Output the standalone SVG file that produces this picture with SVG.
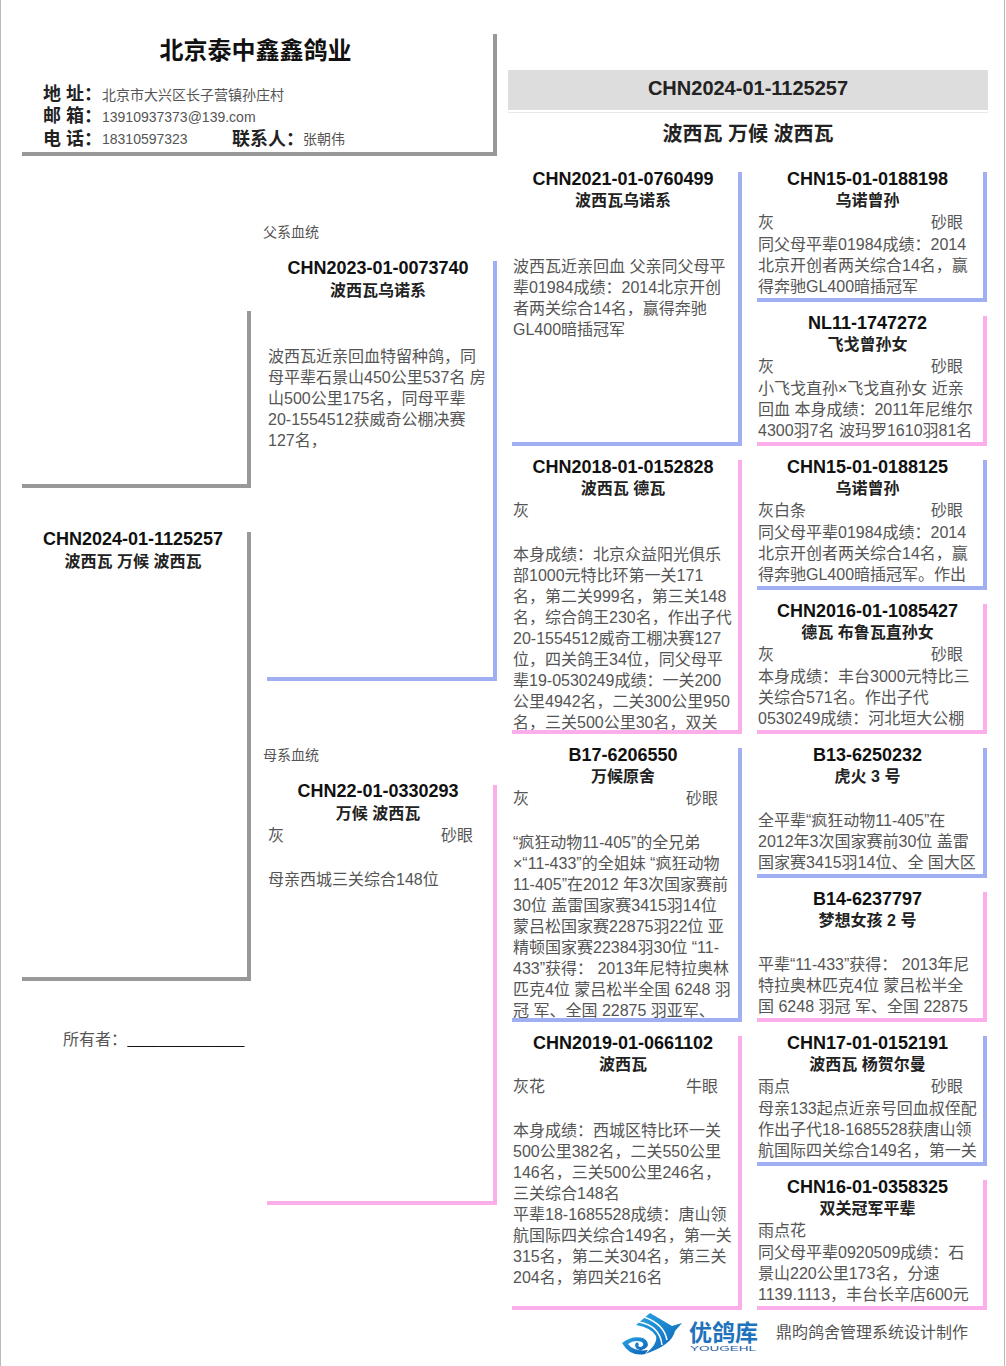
<svg xmlns="http://www.w3.org/2000/svg" width="1006" height="1366" viewBox="0 0 1006 1366">
<style>
text{font-family:"Liberation Sans","Noto Sans CJK SC",sans-serif;fill:#555}
.t{font-size:18px;font-weight:700;text-anchor:middle;fill:#111}
.n{font-size:16px;font-weight:700;text-anchor:middle;fill:#222}
.b{font-size:16px}
.s{font-size:14px}
.h{font-size:18px;font-weight:700;fill:#222}
.k{fill:none;stroke-width:4;stroke-miterlimit:10}
.gr{stroke:#999}.bl{stroke:#a0aff2}.pk{stroke:#fbaeea}
</style>
<defs>
<clipPath id="c2"><rect x="505" y="460" width="232" height="270"/></clipPath>
<clipPath id="c3"><rect x="505" y="748" width="232" height="270"/></clipPath>
<linearGradient id="lg" x1="0" y1="0" x2="1" y2="1"><stop offset="0" stop-color="#2aa7e6"/><stop offset="1" stop-color="#0b5fb4"/></linearGradient>
</defs>
<rect width="1006" height="1366" fill="#fff"/>
<rect x="0" y="0" width="1" height="1366" fill="#bbb"/>
<rect x="1004" y="0" width="1" height="1366" fill="#bbb"/>

<g id="breeder">
<path class="k gr" d="M22 154H495V34"/>
<text x="255.500" y="59" text-anchor="middle" style="font-size:24px;font-weight:700;fill:#111">北京泰中鑫鑫鸽业</text>
<text class="h" x="43" y="100">地 址：</text><text class="s" x="102" y="100">北京市大兴区长子营镇孙庄村</text>
<text class="h" x="43" y="122">邮 箱：</text><text class="s" x="102" y="122">13910937373@139.com</text>
<text class="h" x="43" y="145">电 话：</text><text class="s" x="102" y="144">18310597323</text>
<text class="h" x="232" y="145">联系人：</text><text class="s" x="303" y="144">张朝伟</text>
</g>

<g id="subject-header">
<rect x="508" y="70" width="480" height="40" fill="#ddd"/>
<rect x="508" y="112" width="480" height="1" fill="#e8e8e8"/>
<text x="748" y="95" text-anchor="middle" style="font-size:20px;font-weight:700;fill:#222">CHN2024-01-1125257</text>
<text x="748" y="141" text-anchor="middle" style="font-size:20px;font-weight:700;fill:#222">波西瓦 万候 波西瓦</text>
</g>

<g id="subject">
<path class="k gr" d="M22 486H249V311"/>
<path class="k gr" d="M22 979H249V532"/>
<text class="t" x="133" y="545">CHN2024-01-1125257</text>
<text class="n" x="133" y="567">波西瓦 万候 波西瓦</text>
<text class="b" x="63" y="1045">所有者：</text>
<text class="s" x="127.500" y="1044" style="fill:#111">_______________</text>
</g>

<g id="sire">
<text class="s" x="263" y="237">父系血统</text>
<path class="k bl" d="M267 679H495V261"/>
<text class="t" x="378" y="274">CHN2023-01-0073740</text>
<text class="n" x="378" y="296">波西瓦乌诺系</text>
<text class="b" x="268" y="362">波西瓦近亲回血特留种鸽，同</text>
<text class="b" x="268" y="383">母平辈石景山450公里537名 房</text>
<text class="b" x="268" y="404">山500公里175名，同母平辈</text>
<text class="b" x="268" y="425">20-1554512获威奇公棚决赛</text>
<text class="b" x="268" y="446">127名，</text>
</g>

<g id="dam">
<text class="s" x="263" y="760">母系血统</text>
<path class="k pk" d="M267 1203H495V785"/>
<text class="t" x="378" y="797">CHN22-01-0330293</text>
<text class="n" x="378" y="819">万候 波西瓦</text>
<text class="b" x="268" y="841">灰</text><text class="b" x="441" y="841">砂眼</text>
<text class="b" x="268" y="885">母亲西城三关综合148位</text>
</g>

<g id="ss">
<path class="k bl" d="M512 444H740V172"/>
<text class="t" x="623" y="185">CHN2021-01-0760499</text>
<text class="n" x="623" y="206">波西瓦乌诺系</text>
<text class="b" x="513" y="272">波西瓦近亲回血 父亲同父母平</text>
<text class="b" x="513" y="293">辈01984成绩：2014北京开创</text>
<text class="b" x="513" y="314">者两关综合14名，赢得奔驰</text>
<text class="b" x="513" y="335">GL400暗插冠军</text>
</g>

<g id="sd">
<path class="k pk" d="M512 732H740V460"/>
<text class="t" x="623" y="473">CHN2018-01-0152828</text>
<text class="n" x="623" y="494">波西瓦 德瓦</text>
<text class="b" x="513" y="516">灰</text>
<g clip-path="url(#c2)">
<text class="b" x="513" y="560">本身成绩：北京众益阳光俱乐</text>
<text class="b" x="513" y="581">部1000元特比环第一关171</text>
<text class="b" x="513" y="602">名，第二关999名，第三关148</text>
<text class="b" x="513" y="623">名，综合鸽王230名，作出子代</text>
<text class="b" x="513" y="644">20-1554512威奇工棚决赛127</text>
<text class="b" x="513" y="665">位，四关鸽王34位，同父母平</text>
<text class="b" x="513" y="686">辈19-0530249成绩：一关200</text>
<text class="b" x="513" y="707">公里4942名，二关300公里950</text>
<text class="b" x="513" y="728">名，三关500公里30名，双关</text>
</g>
</g>

<g id="ds">
<path class="k bl" d="M512 1020H740V748"/>
<text class="t" x="623" y="761">B17-6206550</text>
<text class="n" x="623" y="782">万候原舍</text>
<text class="b" x="513" y="804">灰</text><text class="b" x="686" y="804">砂眼</text>
<g clip-path="url(#c3)">
<text class="b" x="513" y="848">“疯狂动物11-405”的全兄弟</text>
<text class="b" x="513" y="869">×“11-433”的全姐妹 “疯狂动物</text>
<text class="b" x="513" y="890">11-405”在2012 年3次国家赛前</text>
<text class="b" x="513" y="911">30位 盖雷国家赛3415羽14位</text>
<text class="b" x="513" y="932">蒙吕松国家赛22875羽22位 亚</text>
<text class="b" x="513" y="953">精顿国家赛22384羽30位 “11-</text>
<text class="b" x="513" y="974">433”获得： 2013年尼特拉奥林</text>
<text class="b" x="513" y="995">匹克4位 蒙吕松半全国 6248 羽</text>
<text class="b" x="513" y="1016">冠 军、全国 22875 羽亚军、</text>
</g>
</g>

<g id="dd">
<path class="k pk" d="M512 1308H740V1036"/>
<text class="t" x="623" y="1049">CHN2019-01-0661102</text>
<text class="n" x="623" y="1070">波西瓦</text>
<text class="b" x="513" y="1092">灰花</text><text class="b" x="686" y="1092">牛眼</text>
<text class="b" x="513" y="1136">本身成绩：西城区特比环一关</text>
<text class="b" x="513" y="1157">500公里382名，二关550公里</text>
<text class="b" x="513" y="1178">146名，三关500公里246名，</text>
<text class="b" x="513" y="1199">三关综合148名</text>
<text class="b" x="513" y="1220">平辈18-1685528成绩：唐山领</text>
<text class="b" x="513" y="1241">航国际四关综合149名，第一关</text>
<text class="b" x="513" y="1262">315名，第二关304名，第三关</text>
<text class="b" x="513" y="1283">204名，第四关216名</text>
</g>

<g id="sss">
<path class="k bl" d="M757 300H985V172"/>
<text class="t" x="867.500" y="185">CHN15-01-0188198</text>
<text class="n" x="867.500" y="206">乌诺曾孙</text>
<text class="b" x="758" y="228">灰</text><text class="b" x="931" y="228">砂眼</text>
<text class="b" x="758" y="250">同父母平辈01984成绩：2014</text>
<text class="b" x="758" y="271">北京开创者两关综合14名，赢</text>
<text class="b" x="758" y="292">得奔驰GL400暗插冠军</text>
</g>

<g id="ssd">
<path class="k pk" d="M757 444H985V316"/>
<text class="t" x="867.500" y="329">NL11-1747272</text>
<text class="n" x="867.500" y="350">飞戈曾孙女</text>
<text class="b" x="758" y="372">灰</text><text class="b" x="931" y="372">砂眼</text>
<text class="b" x="758" y="394">小飞戈直孙×飞戈直孙女 近亲</text>
<text class="b" x="758" y="415">回血 本身成绩：2011年尼维尔</text>
<text class="b" x="758" y="436">4300羽7名 波玛罗1610羽81名</text>
</g>

<g id="sds">
<path class="k bl" d="M757 588H985V460"/>
<text class="t" x="867.500" y="473">CHN15-01-0188125</text>
<text class="n" x="867.500" y="494">乌诺曾孙</text>
<text class="b" x="758" y="516">灰白条</text><text class="b" x="931" y="516">砂眼</text>
<text class="b" x="758" y="538">同父母平辈01984成绩：2014</text>
<text class="b" x="758" y="559">北京开创者两关综合14名，赢</text>
<text class="b" x="758" y="580">得奔驰GL400暗插冠军。作出</text>
</g>

<g id="sdd">
<path class="k pk" d="M757 732H985V604"/>
<text class="t" x="867.500" y="617">CHN2016-01-1085427</text>
<text class="n" x="867.500" y="638">德瓦 布鲁瓦直孙女</text>
<text class="b" x="758" y="660">灰</text><text class="b" x="931" y="660">砂眼</text>
<text class="b" x="758" y="682">本身成绩：丰台3000元特比三</text>
<text class="b" x="758" y="703">关综合571名。作出子代</text>
<text class="b" x="758" y="724">0530249成绩：河北垣大公棚</text>
</g>

<g id="dss">
<path class="k bl" d="M757 876H985V748"/>
<text class="t" x="867.500" y="761">B13-6250232</text>
<text class="n" x="867.500" y="782">虎火 3 号</text>
<text class="b" x="758" y="826">全平辈“疯狂动物11-405”在</text>
<text class="b" x="758" y="847">2012年3次国家赛前30位 盖雷</text>
<text class="b" x="758" y="868">国家赛3415羽14位、全 国大区</text>
</g>

<g id="dsd">
<path class="k pk" d="M757 1020H985V892"/>
<text class="t" x="867.500" y="905">B14-6237797</text>
<text class="n" x="867.500" y="926">梦想女孩 2 号</text>
<text class="b" x="758" y="970">平辈“11-433”获得： 2013年尼</text>
<text class="b" x="758" y="991">特拉奥林匹克4位 蒙吕松半全</text>
<text class="b" x="758" y="1012">国 6248 羽冠 军、全国 22875</text>
</g>

<g id="dds">
<path class="k bl" d="M757 1164H985V1036"/>
<text class="t" x="867.500" y="1049">CHN17-01-0152191</text>
<text class="n" x="867.500" y="1070">波西瓦 杨贺尔曼</text>
<text class="b" x="758" y="1092">雨点</text><text class="b" x="931" y="1092">砂眼</text>
<text class="b" x="758" y="1114">母亲133起点近亲号回血叔侄配</text>
<text class="b" x="758" y="1135">作出子代18-1685528获唐山领</text>
<text class="b" x="758" y="1156">航国际四关综合149名，第一关</text>
</g>

<g id="ddd">
<path class="k pk" d="M757 1308H985V1180"/>
<text class="t" x="867.500" y="1193">CHN16-01-0358325</text>
<text class="n" x="867.500" y="1214">双关冠军平辈</text>
<text class="b" x="758" y="1236">雨点花</text>
<text class="b" x="758" y="1258">同父母平辈0920509成绩：石</text>
<text class="b" x="758" y="1279">景山220公里173名，分速</text>
<text class="b" x="758" y="1300">1139.1113，丰台长辛店600元</text>
</g>

<g id="footer">
<path fill="url(#lg)" d="M650 1313L672 1326L682 1323L675 1331Q672 1345 645 1354Q658 1344 656 1336Q652 1328 636 1325Z"/>
<path fill="none" stroke="#fff" stroke-width="1.500" d="M644 1317Q664 1324 667 1340M639 1322Q660 1326 662 1345"/>
<path fill="url(#lg)" d="M622 1343Q632 1335 643 1338Q650 1342 647 1347Q642 1352 637 1349Q633 1345 637 1342L639 1344Q637 1347 641 1347Q645 1345 642 1342Q634 1339 628 1344Q634 1352 648 1350L645 1354Q630 1357 622 1343Z"/>
<text x="689" y="1341" style="font-size:23px;font-weight:700;fill:#1f73bd">优鸽库</text>
<text x="690" y="1351" textLength="66" lengthAdjust="spacingAndGlyphs" style="font-size:8px;fill:#1f5f9f">YOUGEHL</text>
<text class="b" x="776" y="1338">鼎昀鸽舍管理系统设计制作</text>
</g>
</svg>
